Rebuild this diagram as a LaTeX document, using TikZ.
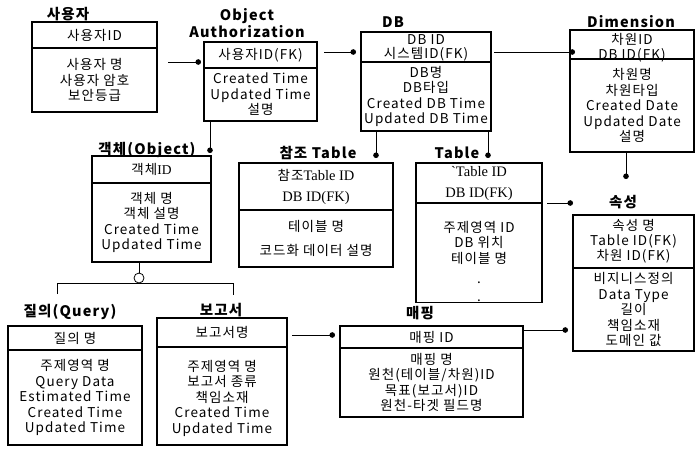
\documentclass[tikz,border=0pt]{standalone}
\usepackage{fontspec}
\setmainfont{Noto Sans CJK KR}[LetterSpace=8]
\newfontfamily\serifid{Liberation Serif}
\usetikzlibrary{arrows.meta,positioning,calc}

\tikzset{
  hd/.style={draw, line width=1.1pt, outer sep=0pt, inner xsep=1pt, inner ysep=0pt, align=center, anchor=north west, font=\fontsize{13.5}{15}\selectfont},
  bd/.style={draw, line width=1.1pt, outer sep=0pt, inner sep=1pt, align=center, font=\fontsize{13.5}{15.5}\selectfont},
  ttl/.style={font=\fontsize{14.5}{15}\selectfont\bfseries, align=center, inner sep=0pt},
  rel/.style={line width=0.8pt, -{Circle[length=5.5pt]}},
  ser/.style={font=\fontsize{14.5}{15}\selectfont\serifid}
}

\begin{document}
\begin{tikzpicture}[x=1pt, y=-1pt]
  \useasboundingbox (0,0) rectangle (696,448);
  % upper row
  \node[ttl] (userT) at (68,14) {사용자};
  \node[hd, minimum width=125pt, minimum height=26pt] (userH) at (32,22) {사용자ID};
  \node[bd, minimum width=125pt, minimum height=64pt, below=0pt of userH] (userB) {사용자 명\\사용자 암호\\보안등급};

  \node[ttl] (oaT) at (247,23) {Object\\Authorization};
  \node[hd, minimum width=113pt, minimum height=26pt] (oaH) at (204,42) {사용자ID(FK)};
  \node[bd, minimum width=113pt, minimum height=53pt, below=0pt of oaH] (oaB) {Created Time\\Updated Time\\설명};

  \node[ttl] (dbT) at (393,22) {DB};
  \node[hd, text depth=3.5pt, minimum width=130pt, minimum height=30pt] (dbH) at (361,32) {\rule{0pt}{12.5pt}DB ID\\[-1pt]시스템ID(FK)};
  \node[bd, minimum width=130pt, minimum height=69pt, below=0pt of dbH] (dbB) {DB명\\DB타입\\Created DB Time\\Updated DB Time};

  \node[ttl] (dimT) at (631,22) {Dimension};
  \node[hd, text depth=0pt, minimum width=124pt, minimum height=29pt] (dimH) at (570,30) {\rule{0pt}{14pt}차원ID\\DB ID(FK)};
  \node[bd, minimum width=124pt, minimum height=93pt, below=0pt of dimH] (dimB) {차원명\\차원타입\\Created Date\\Updated Date\\설명};

  % middle row
  \node[ttl] (objT) at (147,150) {객체(Object)};
  \node[hd, minimum width=119pt, minimum height=27pt] (objH) at (92,156) {객체{\serifid ID}};
  \node[bd, minimum width=119pt, minimum height=79pt, below=0pt of objH] (objB) {객체 명\\객체 설명\\Created Time\\Updated Time};

  \node[ttl] (refT) at (318,153) {참조 Table};
  \node[hd, ser, minimum width=154pt, minimum height=47pt] (refH) at (239,163) {{\fontsize{13.5}{15}\selectfont\normalfont 참조}Table ID\\[6pt]DB ID(FK)};
  \node[bd, minimum width=154pt, minimum height=57pt, below=0pt of refH] (refB) {테이블 명\\[9pt]코드화 데이터 설명};

  \node[ttl] (tblT) at (457,153) {Table};
  \node[hd, ser, minimum width=126pt, minimum height=40pt] (tblH) at (416,163) {`Table ID\\[6pt]DB ID(FK)};
  \node[bd, minimum width=126pt, minimum height=95pt, below=0pt of tblH] (tblB) {\rule{0pt}{28pt}주제영역 ID\\DB 위치\\테이블 명\\[5pt].\\[2pt].};

  \node[ttl] (attT) at (623,202) {속성};
  \node[hd, minimum width=121pt, minimum height=53pt] (attH) at (573,215) {속성 명\\Table ID(FK)\\차원 ID(FK)};
  \node[bd, minimum width=121pt, minimum height=83pt, below=0pt of attH] (attB) {비지니스정의\\Data Type\\길이\\책임소재\\도메인 값};

  % lower row
  \node[ttl] (qryT) at (70,312) {질의(Query)};
  \node[hd, minimum width=134pt, minimum height=24pt] (qryH) at (8,326) {질의 명};
  \node[bd, minimum width=134pt, minimum height=95pt, below=0pt of qryH] (qryB) {주제영역 명\\Query Data\\Estimated Time\\Created Time\\Updated Time};

  \node[ttl] (rptT) at (221,310) {보고서};
  \node[hd, minimum width=130pt, minimum height=29pt] (rptH) at (157,318) {보고서명};
  \node[bd, minimum width=130pt, minimum height=98pt, below=0pt of rptH] (rptB) {\rule{0pt}{16pt}주제영역 명\\보고서 종류\\책임소재\\Created Time\\Updated Time};

  \node[ttl] (mapT) at (420,313) {매핑};
  \node[hd, minimum width=183pt, minimum height=22pt] (mapH) at (340,326) {매핑 ID};
  \node[bd, minimum width=183pt, minimum height=69pt, below=0pt of mapH] (mapB) {매핑 명\\원천(테이블/차원)ID\\목표(보고서)ID\\원천-타겟 필드명};

  % relations
  \coordinate (c1) at (168,62);
  \coordinate (c2) at (324,52);
  \coordinate (c3) at (494,52);
  \coordinate (c4) at (292,335);
  \draw[rel] (c1) -- ($(oaH.west |- c1)+(-3,0)$);
  \draw[rel] (c2) -- ($(dbH.west |- c2)+(-5,0)$);
  \draw[rel] (c3) -- ($(dimH.west |- c3)+(5,0)$);
  \draw[rel] (c4) -- ($(mapH.west |- c4)+(-5,0)$);
  \draw[rel] ([xshift=-6pt]dimB.south) -- ++(0,27);
  \draw[rel] ([xshift=-50pt]dbB.south) -- ++(0,27);
  \draw[rel] ([xshift=62pt]dbB.south) -- ++(0,27);
  \draw[rel] ([xshift=-50.5pt]oaB.south) -- ++(0,32);
  \draw[rel] ([xshift=5pt]tblH.south east) -- ++(26,0);
  \draw[rel] ([yshift=7pt]mapH.east) -- ++(45,0);

  % subtypes of 객체
  \coordinate (brL) at (57,283);
  \coordinate (brR) at (233,283);
  \draw[line width=0.8pt] ([xshift=-12.5pt]objB.south) -- ++(0,11) coordinate (cb);
  \draw[line width=0.8pt] ($(cb)+(0,5)$) circle (5pt);
  \draw[line width=0.8pt] ($(brL)+(0,11)$) -- (brL) -- (brR) -- ($(brR)+(0,12)$);
\end{tikzpicture}
\end{document}
